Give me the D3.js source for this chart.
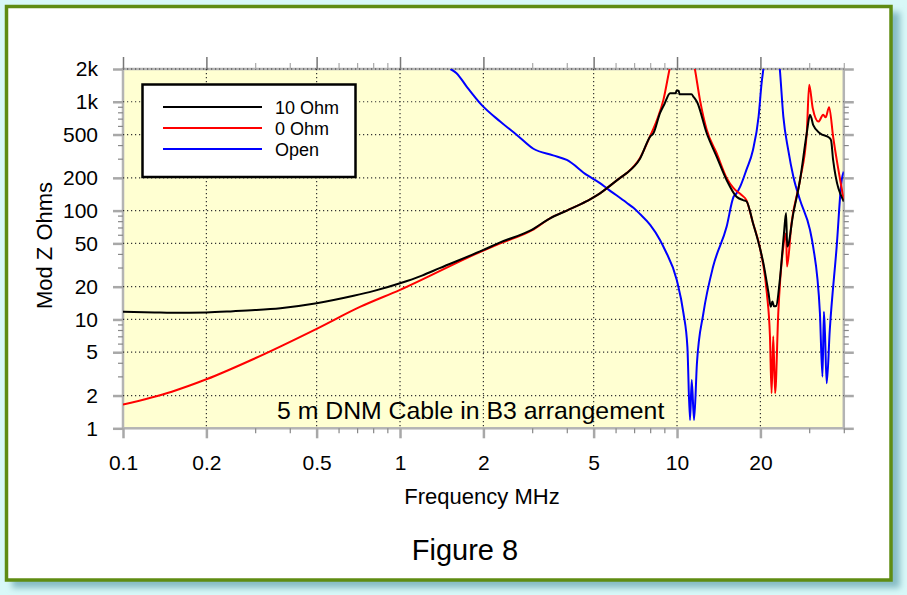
<!DOCTYPE html>
<html><head><meta charset="utf-8">
<script src="https://cdn.jsdelivr.net/npm/d3@7"></script>
<style>
body{margin:0;background:#fff}
svg{display:block;font-family:"Liberation Sans",Arial,Helvetica,sans-serif}
</style>
</head><body>
<svg id="c" width="907" height="595"></svg>
<script>
// ---------- data (frequency in MHz, |Z| in ohms) ----------
const freq10Ohm = [0.1,0.13,0.15,0.2,0.25,0.3,0.37,0.5,0.68,0.8,1.0,1.2,1.39,2.0,2.3,3.0,3.48,4.0,4.72,5.27,5.57,6.23,6.58,7.35,8.0,8.22,8.68,9.0,9.44,9.9,9.95,10.15,10.2,11.27,11.5,11.8,12.8,13.9,15.1,16.4,17.3,17.8,18.8,20.0,20.5,21.4,21.8,22.1,22.4,22.8,23.5,24.3,24.75,25.0,26.3,27.8,29.4,30.2,30.6,31.0,32.8,35.6,36.0,36.6,40];
const z10Ohm    = [11.8,11.6,11.5,11.6,11.9,12.2,12.7,14.1,16.5,18.2,21.5,25.3,29.6,43.5,51,67,85,100,122,144,160,200,221,300,479,514,785,950,1200,1200,1265,1265,1170,1170,1100,1000,514,313,191,134,125,122,77,43.5,32.9,17.4,13.1,14.6,13.2,13.3,23,60,95,46.7,94.7,191,514,758,700,613,514,463,440,292,121];

const freq0Ohm = [0.1,0.15,0.2,0.3,0.5,0.72,1.0,2.0,2.3,3.0,3.48,4.0,4.72,5.27,5.57,6.23,6.58,7.35,8.0,8.5,8.93,9.4,10.4,11.6,12.1,12.8,13.9,15.1,16.0,17.1,17.8,18.8,20.0,21.1,21.65,21.95,22.25,22.6,23.2,24.2,24.75,24.95,25.9,27.8,29.4,30.0,30.9,32.4,33.7,34.4,35.4,36.6,40];
const z0Ohm    = [1.65,2.17,2.82,4.4,8.2,13.1,18.7,43,50,66,85,100,122,144,160,200,221,305,485,700,1041,2000,6000,2000,1041,552,337,200,161,139,125,77,43.5,17.4,7.0,2.1,7.0,2.1,11.4,46.7,62,30.6,76.6,191,514,1430,873,658,758,720,892,479,125];

const freqOpen = [1.52,1.60,1.74,1.97,2.30,2.64,3.03,3.57,4.0,4.72,5.27,5.57,6.58,6.96,7.35,8.0,8.68,9.05,9.98,10.55,10.9,11.14,11.3,11.52,11.8,12.45,13.5,15.1,16.0,16.4,16.9,17.8,18.8,19.7,20.2,20.5,22.0,23.5,24.2,25.2,26.3,27.8,30.2,31.0,32.8,33.5,33.9,34.2,34.7,35.6,37.7,39.3,40];
const zOpen    = [2000,1832,1379,936,658,496,370,322,292,213,179,161,118,106,93,74,53.8,43.5,23,11.4,5.6,1.19,2.78,1.19,3.96,11.4,30.6,71,134,144,166,237,361,731,1483,2000,8000,2000,731,361,205,125,66.5,46.7,11.4,2.98,11.8,7.5,2.59,8.0,46.7,191,228];

const seriesNames  = ["10 Ohm","0 Ohm","Open"];
const seriesColors = ["#000000","#ff0000","#0000ff"];

const xMajor = [0.1,0.2,0.5,1,2,5,10,20];
const xMajorLabels = ["0.1","0.2","0.5","1","2","5","10","20"];
const xMinor = [0.3,0.4,0.6,0.7,0.8,0.9,3,4,6,7,8,9,30,40];
const yMajor = [1,2,5,10,20,50,100,200,500,1000,2000];
const yMajorLabels = ["1","2","5","10","20","50","100","200","500","1k","2k"];
const yMinor = [3,4,6,7,8,9,30,40,60,70,80,90,300,400,600,700,800,900];

// ---------- layout ----------
const L=123, R=843.8, T=69, B=428.3;
const svg = d3.select("#c");
const x = d3.scaleLog().domain([0.1,40]).range([L,R]);
const y = d3.scaleLog().domain([1,2000]).range([B,T]);

const defs = svg.append("defs");
defs.append("filter").attr("id","blur").attr("x","-5%").attr("y","-5%").attr("width","110%").attr("height","110%")
  .append("feGaussianBlur").attr("stdDeviation",3);
defs.append("clipPath").attr("id","clip").append("rect")
  .attr("x",L).attr("y",T).attr("width",R-L).attr("height",B-T);

// outer frame
svg.append("rect").attr("width",907).attr("height",595).attr("fill","#d8f8f8");
svg.append("rect").attr("x",12).attr("y",12).attr("width",888).attr("height",576)
  .attr("fill","#86bcc4").attr("filter","url(#blur)");
svg.append("rect").attr("x",6.5).attr("y",6.5).attr("width",884.5).attr("height",573.5)
  .attr("fill","#ffffff").attr("stroke","#5f8c12").attr("stroke-width",3.5);

// plot background
svg.append("rect").attr("x",L).attr("y",T).attr("width",R-L).attr("height",B-T).attr("fill","#ffffd2");

// axis edges (gray)
const edge = svg.append("g").attr("stroke","#b4b4b4").attr("stroke-width",2.5).attr("fill","none");
edge.append("rect").attr("x",L).attr("y",T).attr("width",R-L).attr("height",B-T);

// grid
const grid = svg.append("g").attr("stroke","#333").attr("stroke-width",1.2).attr("stroke-dasharray","1.2,2.8");
grid.selectAll("line.v").data(xMajor.slice(1)).join("line")
  .attr("x1",d=>x(d)).attr("x2",d=>x(d)).attr("y1",T).attr("y2",B);
grid.selectAll("line.h").data(yMajor.slice(1)).join("line")
  .attr("x1",L).attr("x2",R).attr("y1",d=>y(d)).attr("y2",d=>y(d));

// axes
function styleAxis(g, w, col){
  g.select(".domain").remove();
  g.selectAll(".tick line").attr("stroke",col).attr("stroke-width",w);
  g.selectAll(".tick text").attr("fill","#000").style("font-size","21px")
    .style("font-family",'"Liberation Sans",Arial,sans-serif');
}
const lab = (arr, labels) => d => labels[arr.indexOf(d)];
styleAxis(svg.append("g").attr("transform",`translate(${L},0)`)
  .call(d3.axisLeft(y).tickValues(yMajor).tickSize(10).tickPadding(15).tickFormat(lab(yMajor,yMajorLabels))),2.5,"#a8a8a8");
styleAxis(svg.append("g").attr("transform",`translate(${L},0)`)
  .call(d3.axisLeft(y).tickValues(yMinor).tickSize(5).tickFormat("")),1.2,"#888");
styleAxis(svg.append("g").attr("transform",`translate(${R},0)`)
  .call(d3.axisRight(y).tickValues(yMajor).tickSize(10).tickFormat("")),2.5,"#a8a8a8");
styleAxis(svg.append("g").attr("transform",`translate(${R},0)`)
  .call(d3.axisRight(y).tickValues(yMinor).tickSize(5).tickFormat("")),1.2,"#888");
styleAxis(svg.append("g").attr("transform",`translate(0,${B})`)
  .call(d3.axisBottom(x).tickValues(xMajor).tickSize(10).tickPadding(17).tickFormat(lab(xMajor,xMajorLabels))),2.5,"#a8a8a8");
styleAxis(svg.append("g").attr("transform",`translate(0,${B})`)
  .call(d3.axisBottom(x).tickValues(xMinor).tickSize(5).tickFormat("")),1.2,"#888");
styleAxis(svg.append("g").attr("transform",`translate(0,${T})`)
  .call(d3.axisTop(x).tickValues(xMajor).tickSize(12).tickFormat("")),1.5,"#777");
styleAxis(svg.append("g").attr("transform",`translate(0,${T})`)
  .call(d3.axisTop(x).tickValues(xMinor).tickSize(6).tickFormat("")),1.2,"#aaa");

// curves
const series = [
  {f:freq10Ohm, z:z10Ohm},
  {f:freq0Ohm, z:z0Ohm},
  {f:freqOpen, z:zOpen}
];
const line = d3.line().x(d=>x(d[0])).y(d=>y(d[1])).curve(d3.curveMonotoneX);
const curves = svg.append("g").attr("clip-path","url(#clip)");
[2,1,0].forEach(i=>{
  const pts = series[i].f.map((f,k)=>[f, series[i].z[k]]);
  curves.append("path").datum(pts).attr("d",line).attr("fill","none")
    .attr("stroke",seriesColors[i]).attr("stroke-width",2).attr("stroke-linejoin","round");
});

// annotation
svg.append("text").attr("x",277).attr("y",419).style("font-size","24.8px").text("5 m DNM Cable in B3 arrangement");

// legend
const lg = svg.append("g");
lg.append("rect").attr("x",142.5).attr("y",84.5).attr("width",213).attr("height",92.5)
  .attr("fill","#fff").attr("stroke","#000").attr("stroke-width",2.5);
seriesNames.forEach((n,i)=>{
  const yy = 107 + i*21;
  lg.append("line").attr("x1",163).attr("x2",262).attr("y1",yy).attr("y2",yy)
    .attr("stroke",seriesColors[i]).attr("stroke-width",2.2);
  lg.append("text").attr("x",275).attr("y",yy+6.5).style("font-size","18px").text(n);
});

// titles
svg.append("text").attr("transform","translate(51.5,245.5) rotate(-90)").attr("text-anchor","middle")
  .style("font-size","22px").text("Mod Z Ohms");
svg.append("text").attr("x",482).attr("y",504).attr("text-anchor","middle").style("font-size","22px").text("Frequency MHz");
svg.append("text").attr("x",465).attr("y",560).attr("text-anchor","middle").style("font-size","29px").text("Figure 8");
</script>
</body></html>
